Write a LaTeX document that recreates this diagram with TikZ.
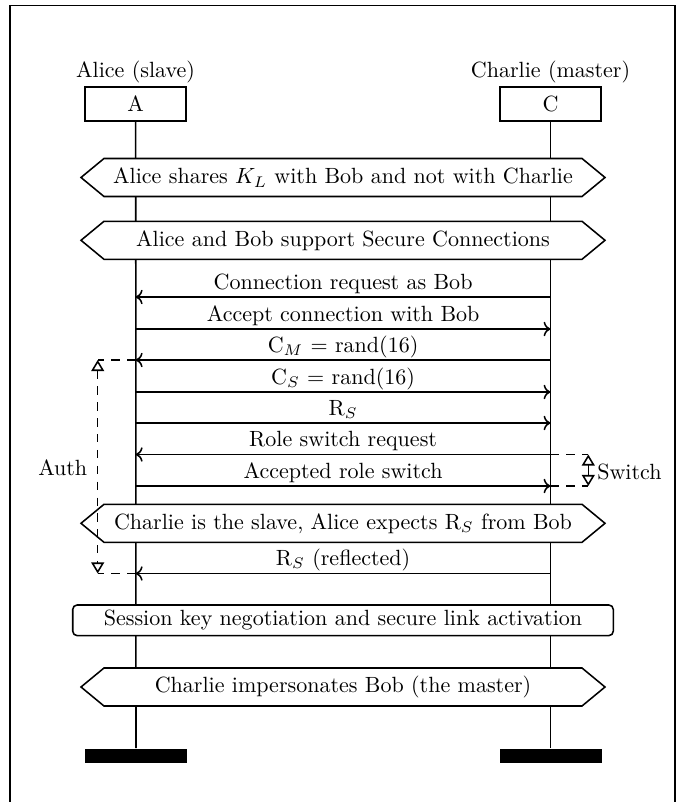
\documentclass[tikz,border=0pt]{standalone}
\usetikzlibrary{arrows.meta}
\begin{document}
\begin{tikzpicture}[x=0.454pt,y=-0.454pt, line width=0.7pt,
  inst/.style={draw, fill=white, minimum width=45.9pt, minimum height=15.4pt, inner sep=0pt},
  msg/.style={->},
  lbl/.style={anchor=base, inner sep=0pt},
  aux/.style={dash pattern=on 3.8pt off 3.4pt},
  bar/.style={fill=black, minimum width=46.3pt, minimum height=6.4pt, inner sep=0pt},
  tri/.style={{Triangle[open,length=5pt,width=5.8pt]}-{Triangle[open,length=5pt,width=5.8pt]}},
  condtext/.style={inner sep=0pt},
  action/.style={draw, fill=white, rounded corners=2pt, minimum width=245.4pt, minimum height=13.9pt, inner sep=0pt}
]
\useasboundingbox (0,0) rectangle (684,802);
\clip (0,0) rectangle (684,802);
% frame
\draw[line width=0.8pt] (10,5.5) rectangle (675,840);

% instances
\node[inst] (A) at (135.7,104) {A};
\node[inst] (C) at (550.5,104) {C};
\node[lbl] (Alab) at (135.5,78) {Alice (slave)};
\node[lbl] (Clab) at (550.5,78) {Charlie (master)};
\node[bar] (Abar) at (136,756) {};
\node[bar] (Cbar) at (550.5,756) {};
\draw (A.south) -- (Abar.north);
\draw (C.south) -- (Cbar.north);

% conditions (hexagons)
\newcommand\condhex[3]{%
  \draw[fill=white] (81,#2) -- (104,{#2-19}) -- (582,{#2-19}) -- (605,#2) -- (582,{#2+19}) -- (104,{#2+19}) -- cycle;
  \node[condtext] (#1) at (343,#2) {#3};}
\condhex{h1}{177.5}{Alice shares $K_L$ with Bob and not with Charlie}
\condhex{h2}{240.3}{Alice and Bob support Secure Connections}

% messages
\newcommand\lifecoords[2]{%
  \coordinate (a#1) at (135.7,#2);
  \coordinate (c#1) at (550.5,#2);}
\lifecoords{1}{297}
\lifecoords{2}{329}
\lifecoords{3}{360}
\lifecoords{4}{392}
\lifecoords{5}{423}
\lifecoords{6}{454.5}
\lifecoords{7}{486}
\lifecoords{8}{573.5}

\draw[msg] (c1) -- (a1) node[lbl, pos=0.5, yshift=3.6pt] (m1) {Connection request as Bob};
\draw[msg] (a2) -- (c2) node[lbl, pos=0.5, yshift=3.6pt] (m2) {Accept connection with Bob};
\draw[msg] (c3) -- (a3) node[lbl, pos=0.5, yshift=3.6pt] (m3) {C$_M$ = rand(16)};
\draw[msg] (a4) -- (c4) node[lbl, pos=0.5, yshift=3.6pt] (m4) {C$_S$ = rand(16)};
\draw[msg] (a5) -- (c5) node[lbl, pos=0.5, yshift=3.6pt] (m5) {R$_S$};
\draw[msg] (c6) -- (a6) node[lbl, pos=0.5, yshift=3.6pt] (m6) {Role switch request};
\draw[msg] (a7) -- (c7) node[lbl, pos=0.5, yshift=3.6pt] (m7) {Accepted role switch};
\draw[msg] (c8) -- (a8) node[lbl, pos=0.5, yshift=3.6pt] (m8) {R$_S$ (reflected)};

% switch
\coordinate (s1) at (588.3,454.5);
\coordinate (s2) at (588.3,486);
\draw[aux] (c6) -- (s1);
\draw[aux] (c7) -- (s2);
\draw[tri] (s1) -- (s2);
\node[anchor=west, inner sep=0pt] (sw) at (596.5,472) {Switch};

\condhex{h3}{523.3}{Charlie is the slave, Alice expects R$_S$ from Bob}

% auth
\coordinate (u1) at (97.7,360);
\coordinate (u2) at (97.7,573.5);
\draw[aux] (a3) -- (u1);
\draw[aux] (a8) -- (u2);
\draw[tri,aux] (u1) -- (u2);
\node[anchor=east, inner sep=0pt] (auth) at (88,468) {Auth};

% action
\node[action] (skn) at (343,620.3) {Session key negotiation and secure link activation};

\condhex{h4}{687}{Charlie impersonates Bob (the master)}
\end{tikzpicture}
\end{document}
